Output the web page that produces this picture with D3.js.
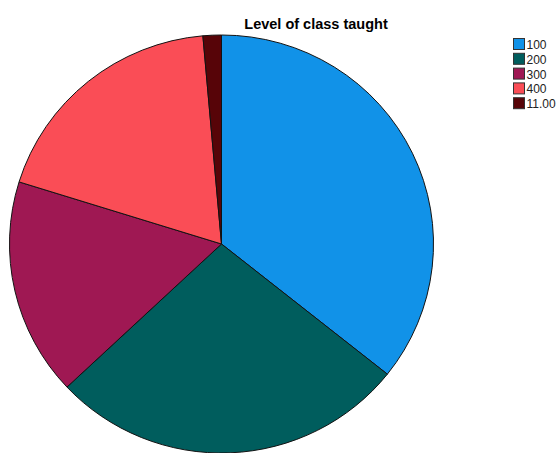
<!DOCTYPE html>
<html><head><meta charset="utf-8">
<script src="https://cdn.jsdelivr.net/npm/d3@7"></script>
<style>body{margin:0;background:#fff;}svg{display:block;}</style>
</head><body>
<svg id="chart" width="559" height="453"></svg>
<script>
const categories = ["100", "200", "300", "400", "11.00"];
const percents = [35.7, 27.3, 16.8, 18.8, 1.4];
const colors = ["#1192e8", "#005d5d", "#9f1853", "#fa4d56", "#570408"];
const title = "Level of class taught";

const svg = d3.select("#chart");
const cx = 221.5, cy = 244, r = 212, ry = 209;

const data = categories.map((c, i) => ({cat: c, value: percents[i], color: colors[i]}));
const pie = d3.pie().value(d => d.value).sort(null);
const arc = d3.arc().innerRadius(0).outerRadius(r);

svg.append("g").attr("transform", `translate(${cx},${cy}) scale(1,${ry / r})`)
  .selectAll("path").data(pie(data)).join("path")
  .attr("d", arc)
  .attr("fill", d => d.data.color)
  .attr("stroke", "#111")
  .attr("stroke-width", 1);

svg.append("text").attr("x", 316).attr("y", 29)
  .attr("text-anchor", "middle")
  .attr("font-family", "Liberation Sans, Arial, sans-serif")
  .attr("font-weight", "bold").attr("font-size", 14.5)
  .attr("fill", "#000").text(title);

const leg = svg.append("g").attr("transform", "translate(513,38)");
const rows = leg.selectAll("g").data(data).join("g")
  .attr("transform", (d, i) => `translate(0,${i * 14.8})`);
rows.append("rect").attr("x", 0.5).attr("y", 0.5).attr("width", 11).attr("height", 11)
  .attr("fill", d => d.color).attr("stroke", "#333").attr("stroke-width", 1);
rows.append("text").attr("x", 13.5).attr("y", 11)
  .attr("font-family", "Liberation Sans, Arial, sans-serif")
  .attr("font-size", 12).attr("fill", "#222")
  .text(d => d.cat);
</script>
</body></html>
